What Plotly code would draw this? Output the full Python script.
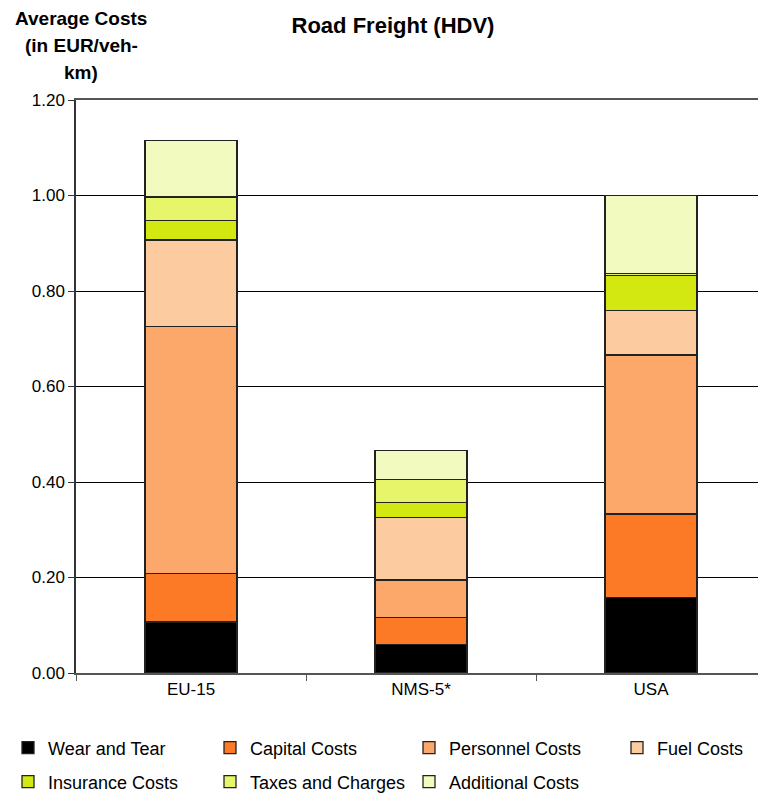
import plotly.graph_objects as go

categories = ["EU-15", "NMS-5*", "USA"]
series_names = ["Wear and Tear", "Capital Costs", "Personnel Costs", "Fuel Costs",
                "Insurance Costs", "Taxes and Charges", "Additional Costs"]
wear_and_tear = [0.107, 0.059, 0.158]
capital_costs = [0.102, 0.057, 0.175]
personnel_costs = [0.516, 0.079, 0.333]
fuel_costs = [0.182, 0.130, 0.093]
insurance_costs = [0.040, 0.032, 0.073]
taxes_and_charges = [0.050, 0.048, 0.004]
additional_costs = [0.118, 0.061, 0.164]
colors = ["#000000", "#FC7A26", "#FCA86A", "#FCCBA0", "#D2E810", "#E6F56A", "#F2FAC0"]
y_tickvals = [0, 0.2, 0.4, 0.6, 0.8, 1.0, 1.2]
y_ticktext = ["0.00", "0.20", "0.40", "0.60", "0.80", "1.00", "1.20"]
y_title_lines = ["Average Costs", "(in EUR/veh-", "km)"]

values = [wear_and_tear, capital_costs, personnel_costs, fuel_costs,
          insurance_costs, taxes_and_charges, additional_costs]

# page is drawn with an 8px body offset, so the figure is 758x786
W, H, L, T, B = 758, 786, 68, 92, 121
PW, PH = W - L, H - T - B
font = "Liberation Sans, Arial, sans-serif"

# legend slot positions (figure pixels): 4 columns, 2 rows
leg_x = [0, 202, 401, 609, 0, 202, 401]
leg_y = [740, 740, 740, 740, 774, 774, 774]
legend_ids = ["legend"] + [f"legend{i}" for i in range(2, 8)]

fig = go.Figure()
for name, vals, col, lg in zip(series_names, values, colors, legend_ids):
    fig.add_trace(go.Bar(
        x=categories, y=vals, name=name, legend=lg, showlegend=True,
        marker=dict(color=col, line=dict(color="#222222", width=1.3)),
    ))

legends = {}
for lg, lx, ly in zip(legend_ids, leg_x, leg_y):
    legends[lg] = dict(orientation="h", xref="container", yref="container",
                       x=lx / W, y=1 - ly / H, xanchor="left", yanchor="middle",
                       font=dict(size=18, family=font), itemwidth=30,
                       bgcolor="rgba(0,0,0,0)")

annotations = []
for i, line in enumerate(y_title_lines):
    yc = 10 + 27 * i
    annotations.append(dict(text=f"<b>{line}</b>", xref="paper", yref="paper",
                            x=(73 - L) / PW, y=(H - B - yc) / PH,
                            xanchor="center", yanchor="middle", showarrow=False,
                            font=dict(size=19, family=font)))

fig.update_layout(
    barmode="stack",
    bargap=0.6,
    showlegend=True,
    width=W, height=H,
    margin=dict(l=L, r=0, t=T, b=B, autoexpand=False),
    paper_bgcolor="white", plot_bgcolor="white",
    font=dict(family=font, size=17, color="black"),
    title=dict(text="<b>Road Freight (HDV)</b>", x=385 / W, xanchor="center",
               xref="container", yref="container",
               y=1 - 17 / H, yanchor="middle", font=dict(size=22, family=font)),
    xaxis=dict(showline=True, linecolor="#555555", linewidth=1.5, mirror=True,
               ticks="outside", tickson="boundaries", ticklen=6, tickcolor="#555555",
               tickfont=dict(size=17), showgrid=False),
    yaxis=dict(range=[0, 1.2], tickvals=y_tickvals, ticktext=y_ticktext,
               showline=True, linecolor="#333333", linewidth=1.5,
               ticks="outside", ticklen=6, tickcolor="#333333",
               showgrid=True, gridcolor="black", gridwidth=1,
               zeroline=False, tickfont=dict(size=17)),
    annotations=annotations,
    **legends,
)

fig.write_html("out.html")
